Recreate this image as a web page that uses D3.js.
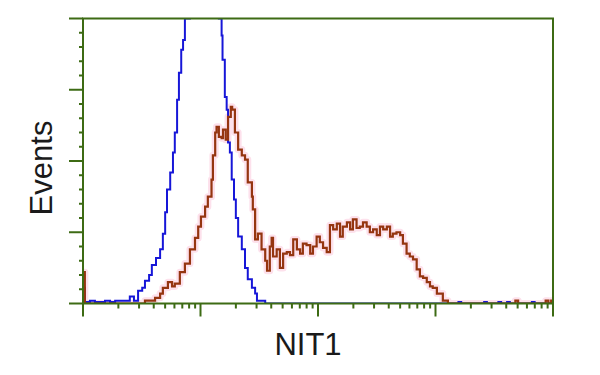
<!DOCTYPE html>
<html>
<head>
<meta charset="utf-8">
<script src="https://cdn.jsdelivr.net/npm/d3@7"></script>
<style>
  body { margin: 0; background: #fff; }
  svg { display: block; }
</style>
</head>
<body>
<div id="chart"></div>
<script>
// histogram data: channel (0-1024, 4 log decades) and event counts
const blueChannels = [0, 4, 15, 26, 37, 48, 59, 70, 81, 92, 102, 111, 120, 129, 135, 144, 150, 159, 168, 174, 179, 183, 190, 196, 200, 205, 209, 214, 218, 222, 233, 244, 255, 266, 277, 288, 296, 302, 304, 309, 313, 316, 320, 324, 329, 333, 338, 346, 353, 359, 368, 375, 379, 386, 397, 818, 824, 874, 880, 905, 911, 924, 930, 978, 984, 1024];
const blueCounts   = [11, 1, 2, 1, 1, 2, 1, 2, 2, 2, 5, 2, 9, 11, 16, 20, 27, 32, 38, 49, 64, 80, 92, 106, 120, 143, 162, 178, 185, 200, 225, 245, 255, 260, 250, 225, 200, 188, 171, 145, 136, 113, 106, 87, 73, 60, 47, 38, 25, 17, 11, 7, 2, 2, 0, 1, 0, 1, 0, 1, 0, 1, 0, 1, 0, 0];

const redChannels = [0, 4, 124, 135, 146, 157, 168, 174, 185, 194, 200, 211, 222, 233, 244, 251, 257, 266, 272, 280, 283, 288, 291, 296, 302, 305, 311, 316, 322, 325, 331, 338, 346, 353, 359, 368, 370, 375, 381, 389, 397, 401, 407, 411, 414, 422, 429, 436, 444, 451, 458, 466, 473, 479, 487, 495, 501, 509, 516, 523, 531, 538, 545, 553, 560, 566, 575, 582, 588, 596, 603, 610, 618, 625, 632, 640, 647, 654, 662, 669, 675, 683, 691, 697, 705, 712, 719, 727, 734, 741, 749, 756, 762, 771, 784, 795, 942, 948, 1008, 1014, 1020, 1024];
const redCounts   = [22, 0, 0, 2, 2, 4, 7, 11, 15, 12, 14, 22, 28, 38, 46, 54, 61, 68, 75, 87, 104, 120, 124, 117, 116, 122, 115, 131, 138, 136, 120, 108, 104, 101, 85, 75, 66, 45, 49, 38, 30, 23, 40, 46, 33, 38, 25, 35, 36, 34, 45, 38, 35, 42, 41, 35, 40, 47, 43, 39, 36, 55, 52, 56, 47, 54, 57, 52, 59, 53, 54, 57, 54, 50, 52, 48, 54, 52, 54, 47, 49, 50, 48, 42, 35, 33, 31, 24, 19, 18, 15, 12, 11, 7, 2, 0, 2, 0, 2, 0, 2, 2];

const decades = [1, 10, 100, 1000, 10000];
const yMajor = [0, 50, 100, 150, 200];

const xLabel = "NIT1";
const yLabel = "Events";

const W = 600, H = 375;
const margin = {top: 18.5, right: 47, bottom: 71.5, left: 83};
const width = W - margin.left - margin.right,
  height = H - margin.top - margin.bottom;

const axisColor = "#3d6b14";

const svg = d3.select("#chart")
.append("svg")
  .attr("width", W)
  .attr("height", H);

const g = svg.append("g")
  .attr("transform", "translate(" + margin.left + "," + margin.top + ")");

let x = d3.scaleLinear().domain([0, 1024]).range([0, width]);
let y = d3.scaleLinear().domain([0, 200]).range([height, 0]);

// log decade -> channel
const chan = v => 256 * Math.log10(v);

g.append("clipPath").attr("id", "clip")
  .append("rect").attr("width", width).attr("height", height);

// y ticks: major every 50, minor every 10
const yMinor = d3.range(0, 201, 10).filter(v => yMajor.indexOf(v) < 0);
g.append("g")
  .attr("stroke", axisColor).attr("stroke-width", 2)
  .selectAll("line")
  .data(yMajor.map(v => ({v: v, len: 14})).concat(yMinor.map(v => ({v: v, len: 4}))))
  .enter().append("line")
    .attr("x1", 0).attr("x2", d => -d.len)
    .attr("y1", d => y(d.v)).attr("y2", d => y(d.v));

// x ticks: decades + 2..9 minors
let xMinor = [];
decades.slice(0, -1).forEach(function(d) {
  for (let k = 2; k < 10; k++) xMinor.push(d * k);
});
g.append("g")
  .attr("stroke", axisColor).attr("stroke-width", 2)
  .selectAll("line")
  .data(decades.map(v => ({v: v, len: 13})).concat(xMinor.map(v => ({v: v, len: 5}))))
  .enter().append("line")
    .attr("x1", d => x(chan(d.v))).attr("x2", d => x(chan(d.v)))
    .attr("y1", height).attr("y2", d => height + d.len);

const line = d3.line()
  .x(d => x(d[0]))
  .y(d => y(d[1]))
  .curve(d3.curveStepAfter);

const blueData = blueChannels.map((c, i) => [c, blueCounts[i]]);
const redData = redChannels.map((c, i) => [c, redCounts[i]]);

const plot = g.append("g").attr("clip-path", "url(#clip)");

// faint pink halo behind the red trace
plot.append("path")
  .datum(redData)
  .attr("d", line)
  .attr("fill", "none")
  .attr("stroke", "#fde1ec")
  .attr("stroke-width", 7)
  .attr("stroke-linejoin", "round");

plot.append("path")
  .datum(blueData)
  .attr("d", line)
  .attr("fill", "none")
  .attr("stroke", "#1616d8")
  .attr("stroke-width", 2);

plot.append("path")
  .datum(redData)
  .attr("d", line)
  .attr("fill", "none")
  .attr("stroke", "#953510")
  .attr("stroke-width", 2.2);

// frame
g.append("rect")
  .attr("width", width).attr("height", height)
  .attr("fill", "none")
  .attr("stroke", axisColor)
  .attr("stroke-width", 2);

svg.append("text")
  .attr("x", 308).attr("y", 355)
  .attr("text-anchor", "middle")
  .attr("font-family", "Liberation Sans, Arial, sans-serif")
  .attr("font-size", "31px")
  .attr("fill", "#1a1a1a")
  .text(xLabel);

svg.append("text")
  .attr("transform", "translate(52,168) rotate(-90)")
  .attr("text-anchor", "middle")
  .attr("font-family", "Liberation Sans, Arial, sans-serif")
  .attr("font-size", "31px")
  .attr("fill", "#1a1a1a")
  .text(yLabel);
</script>
</body>
</html>
